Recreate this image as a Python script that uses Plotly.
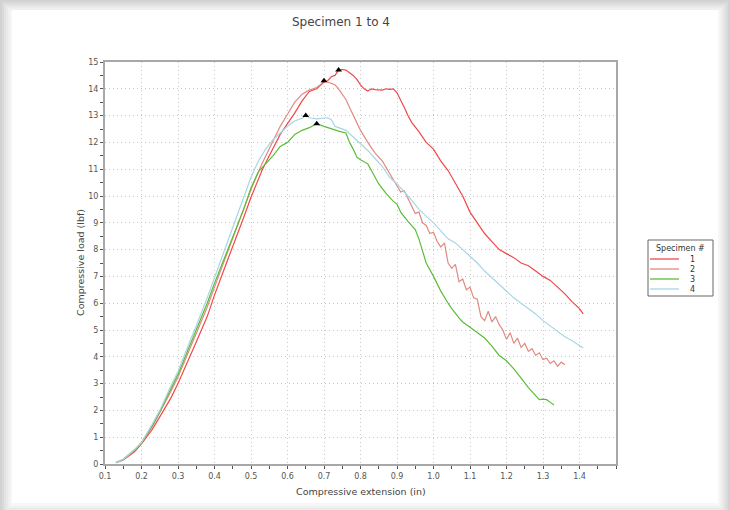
import plotly.graph_objects as go

# ---------------- data ----------------
specimen_names = ["1", "2", "3", "4"]

x1 = [0.13,0.15,0.18,0.2,0.23,0.25,0.28,0.3,0.33,0.35,0.38,0.4,0.43,0.45,0.48,0.5,0.53,0.55,0.58,0.6,0.62,0.64,0.66,0.68,0.7,0.71,0.72,0.73,0.74,0.75,0.76,0.77,0.78,0.79,0.8,0.81,0.82,0.83,0.84,0.86,0.87,0.88,0.89,0.9,0.91,0.92,0.93,0.94,0.96,0.98,1.0,1.02,1.04,1.06,1.08,1.1,1.12,1.14,1.16,1.18,1.2,1.22,1.24,1.26,1.28,1.3,1.32,1.34,1.36,1.38,1.4,1.41]
y1 = [0.05,0.15,0.45,0.75,1.3,1.75,2.45,3.0,3.9,4.55,5.5,6.3,7.4,8.1,9.2,9.95,10.95,11.5,12.3,12.7,13.1,13.55,13.9,14.0,14.25,14.3,14.45,14.5,14.7,14.72,14.7,14.6,14.5,14.35,14.15,14.0,13.92,14.0,13.97,13.95,14.0,13.98,14.0,13.85,13.6,13.3,13.0,12.75,12.4,12.0,11.75,11.3,10.95,10.5,10.0,9.4,9.0,8.6,8.3,8.0,7.85,7.7,7.5,7.4,7.2,7.0,6.85,6.6,6.35,6.05,5.8,5.6]

x2 = [0.13,0.15,0.18,0.2,0.23,0.25,0.28,0.3,0.33,0.35,0.38,0.4,0.43,0.45,0.48,0.5,0.53,0.55,0.58,0.6,0.62,0.64,0.66,0.68,0.69,0.7,0.71,0.72,0.73,0.74,0.75,0.76,0.77,0.78,0.79,0.8,0.82,0.84,0.86,0.88,0.9,0.91,0.92,0.93,0.94,0.95,0.96,0.97,0.98,0.99,1.0,1.01,1.02,1.03,1.04,1.05,1.06,1.07,1.08,1.09,1.1,1.11,1.12,1.13,1.14,1.15,1.16,1.17,1.18,1.19,1.2,1.21,1.22,1.23,1.24,1.25,1.26,1.27,1.28,1.29,1.3,1.31,1.32,1.33,1.34,1.35,1.36]
y2 = [0.05,0.17,0.5,0.8,1.4,1.9,2.7,3.25,4.2,4.85,5.85,6.6,7.7,8.45,9.5,10.25,11.2,11.75,12.6,13.05,13.5,13.8,13.95,14.05,14.15,14.3,14.25,14.2,14.15,14.0,13.8,13.6,13.3,13.0,12.75,12.45,12.0,11.6,11.3,10.85,10.4,10.15,10.2,9.9,9.6,9.35,9.4,9.0,8.9,8.6,8.65,8.3,8.1,8.25,7.5,7.3,7.45,6.8,6.9,6.5,6.6,6.2,6.15,5.5,5.35,5.7,5.3,5.5,5.2,5.0,4.65,4.9,4.5,4.7,4.35,4.5,4.2,4.3,4.05,4.15,3.9,3.95,3.75,3.85,3.65,3.8,3.7]

x3 = [0.13,0.15,0.18,0.2,0.23,0.25,0.28,0.3,0.33,0.35,0.38,0.4,0.43,0.45,0.48,0.5,0.52,0.54,0.56,0.58,0.6,0.62,0.64,0.66,0.68,0.7,0.72,0.74,0.76,0.77,0.78,0.79,0.8,0.82,0.84,0.85,0.87,0.89,0.9,0.91,0.93,0.95,0.96,0.97,0.98,1.0,1.02,1.04,1.05,1.07,1.08,1.1,1.12,1.14,1.16,1.18,1.2,1.22,1.24,1.26,1.28,1.29,1.3,1.31,1.32,1.33]
y3 = [0.05,0.18,0.52,0.8,1.45,1.95,2.8,3.35,4.35,5.0,6.0,6.75,7.8,8.5,9.5,10.3,10.9,11.2,11.5,11.85,12.0,12.3,12.45,12.55,12.7,12.6,12.5,12.42,12.35,12.0,11.75,11.45,11.35,11.2,10.7,10.45,10.1,9.8,9.7,9.4,9.05,8.75,8.4,7.9,7.5,7.0,6.45,6.0,5.8,5.45,5.3,5.1,4.9,4.7,4.4,4.05,3.85,3.55,3.2,2.85,2.55,2.4,2.42,2.4,2.3,2.2]

x4 = [0.13,0.15,0.18,0.2,0.23,0.25,0.28,0.3,0.33,0.35,0.38,0.4,0.43,0.45,0.48,0.5,0.52,0.54,0.56,0.58,0.6,0.62,0.64,0.65,0.66,0.68,0.7,0.71,0.72,0.73,0.74,0.76,0.78,0.8,0.82,0.84,0.86,0.88,0.9,0.92,0.94,0.96,0.98,1.0,1.02,1.04,1.06,1.08,1.1,1.12,1.14,1.16,1.18,1.2,1.22,1.24,1.26,1.28,1.3,1.32,1.34,1.36,1.38,1.4,1.41]
y4 = [0.05,0.18,0.52,0.8,1.5,2.0,2.9,3.45,4.5,5.15,6.2,6.95,8.05,8.8,10.0,10.7,11.3,11.75,12.1,12.35,12.6,12.8,12.9,13.0,12.92,12.88,12.9,12.92,12.85,12.6,12.55,12.45,12.2,11.95,11.7,11.4,11.1,10.7,10.45,10.15,9.85,9.5,9.25,9.0,8.7,8.4,8.25,8.0,7.75,7.5,7.2,6.95,6.7,6.45,6.2,6.0,5.8,5.6,5.35,5.15,4.95,4.75,4.6,4.4,4.33]

peak_x = [0.74, 0.70, 0.68, 0.65]
peak_y = [14.7, 14.3, 12.7, 13.0]

x_tick_labels = ["0.1","0.2","0.3","0.4","0.5","0.6","0.7","0.8","0.9","1.0","1.1","1.2","1.3","1.4"]
y_tick_labels = [str(i) for i in range(16)]
legend_title = "Specimen #"

# ---------------- styling ----------------
colors = ["#f04848", "#e08a80", "#5cbc38", "#a6d6e6"]
FONT = "DejaVu Sans"

# plot area in pixels
L, R, T, B = 105, 616, 62, 464
W, H = R - L, B - T


def px2paper_x(px):
    return (px - L) / W


def px2paper_y(py):
    return (B - py) / H


fig = go.Figure()
for name, xs, ys, c in zip(specimen_names, [x1, x2, x3, x4], [y1, y2, y3, y4], colors):
    fig.add_trace(go.Scatter(x=xs, y=ys, mode="lines", name=name, showlegend=False,
                             line=dict(color=c, width=1.2)))

fig.add_trace(go.Scatter(x=peak_x, y=peak_y, mode="markers", showlegend=False,
                         marker=dict(symbol="triangle-up", size=6, color="black")))

# shadow frame + white card
shapes = []
shadow_cols = ["#d2d2d2", "#dadada", "#e2e2e2", "#e9e9e9", "#f0f0f0", "#f6f6f6"]
for i, c in enumerate(shadow_cols):
    inset = 2 * i
    shapes.append(dict(type="rect", xref="paper", yref="paper", layer="below",
                       x0=px2paper_x(inset), x1=px2paper_x(730 - inset),
                       y0=px2paper_y(510 - inset + 6), y1=px2paper_y(inset),
                       line=dict(width=0), fillcolor=c))
shapes.append(dict(type="rect", xref="paper", yref="paper", layer="below",
                   x0=px2paper_x(12), x1=px2paper_x(718),
                   y0=px2paper_y(503), y1=px2paper_y(10),
                   line=dict(width=0), fillcolor="white"))

# manual legend (compact, like the reference)
annotations = []
lg_x0, lg_x1, lg_y0, lg_y1 = 648, 713, 240, 296
shapes.append(dict(type="rect", xref="paper", yref="paper",
                   x0=px2paper_x(lg_x0), x1=px2paper_x(lg_x1),
                   y0=px2paper_y(lg_y1), y1=px2paper_y(lg_y0),
                   line=dict(color="#666", width=1), fillcolor="white"))
annotations.append(dict(text=legend_title, xref="paper", yref="paper",
                        x=px2paper_x((lg_x0 + lg_x1) / 2), y=px2paper_y(248),
                        xanchor="center", yanchor="middle", showarrow=False,
                        font=dict(family=FONT, size=8, color="#333")))
for i, (name, c) in enumerate(zip(specimen_names, colors)):
    yy = 259 + 10 * i
    shapes.append(dict(type="line", xref="paper", yref="paper",
                       x0=px2paper_x(650), x1=px2paper_x(679),
                       y0=px2paper_y(yy), y1=px2paper_y(yy),
                       line=dict(color=c, width=1.3)))
    annotations.append(dict(text=name, xref="paper", yref="paper",
                            x=px2paper_x(692), y=px2paper_y(yy),
                            xanchor="center", yanchor="middle", showarrow=False,
                            font=dict(family=FONT, size=8, color="#333")))

annotations += [
    dict(text="Compressive extension (in)", xref="paper", yref="paper",
         x=0.5, y=px2paper_y(492), xanchor="center", yanchor="middle",
         showarrow=False, font=dict(family=FONT, size=9.5, color="#444")),
    dict(text="Compressive load (lbf)", xref="paper", yref="paper",
         x=px2paper_x(80), y=0.5, xanchor="center", yanchor="middle", textangle=-90,
         showarrow=False, font=dict(family=FONT, size=9.5, color="#444")),
]

axis_common = dict(
    showline=True, linecolor="#a8a8a8", linewidth=2, mirror=True,
    ticks="outside", ticklen=3, tickcolor="#555", tickwidth=1,
    showgrid=True, gridcolor="#c8c8c8", griddash="1px,3px", gridwidth=1,
    zeroline=False, tickfont=dict(family=FONT, size=8, color="#555"),
)

fig.update_layout(
    width=730, height=510,
    margin=dict(l=L, r=730 - R, t=T, b=510 - B),
    paper_bgcolor="#cccccc", plot_bgcolor="white",
    showlegend=False,
    font=dict(family=FONT, color="#444"),
    title=dict(text="Specimen 1 to 4", x=341 / 730, xanchor="center", xref="container",
               y=1 - 22 / 510, yanchor="middle", yref="container",
               font=dict(family=FONT, size=12, color="#444")),
    xaxis=dict(range=[0.1, 1.5], tickmode="array",
               tickvals=[float(t) for t in x_tick_labels], ticktext=x_tick_labels,
               minor=dict(tick0=0.1, dtick=0.05, ticks="outside", ticklen=3,
                          tickcolor="#555", showgrid=False),
               **axis_common),
    yaxis=dict(range=[0, 15], tickmode="array",
               tickvals=[int(t) for t in y_tick_labels], ticktext=y_tick_labels,
               minor=dict(tick0=0, dtick=0.5, ticks="outside", ticklen=3,
                          tickcolor="#555", showgrid=False),
               **axis_common),
    shapes=shapes,
    annotations=annotations,
)

fig.write_html("out.html", config={"displayModeBar": False},
               post_script="document.body.style.margin='0px';")
